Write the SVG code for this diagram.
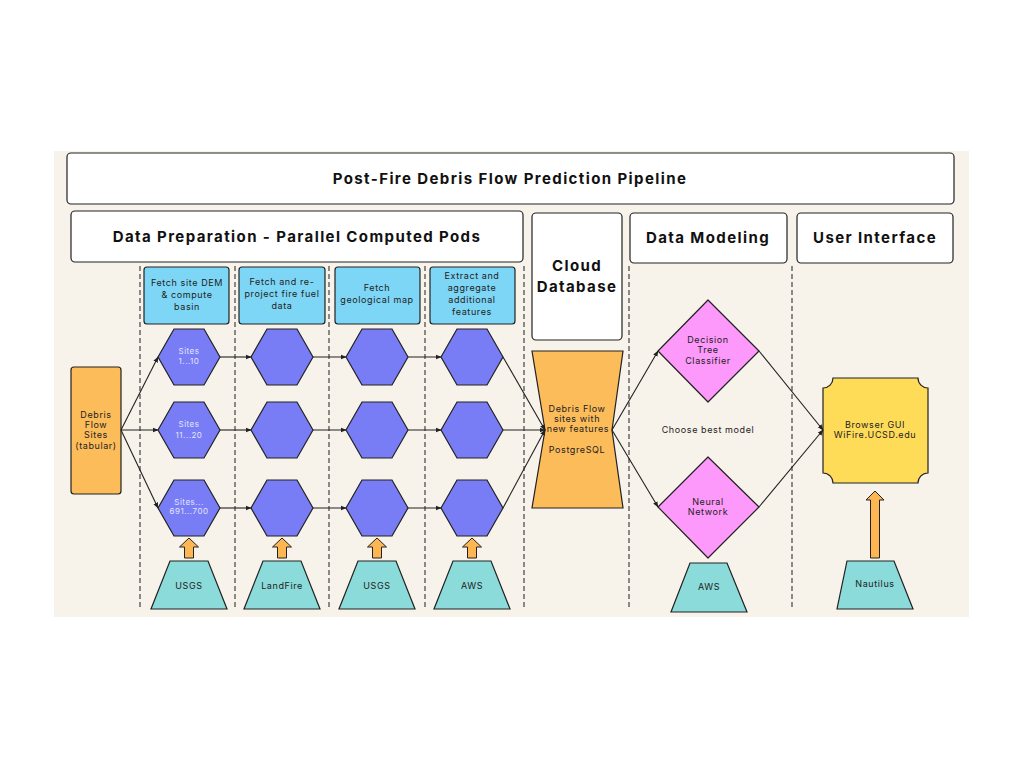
<svg xmlns="http://www.w3.org/2000/svg" width="1024" height="768" viewBox="0 0 1024 768">
  <style>
    .hdr { fill: #ffffff; stroke: #222; stroke-width: 1.2; }
    .h1 { font-family: Inter, "Liberation Sans", sans-serif; font-weight: 700; font-size: 15px; fill: #111; text-anchor: middle; letter-spacing: 1.4px; }
    .task { fill: #7dd6f5; stroke: #222; stroke-width: 1.2; }
    .t { font-family: Inter, "Liberation Sans", sans-serif; font-size: 9px; fill: #222; text-anchor: middle; letter-spacing: 0.6px; }
    .tw { font-family: Inter, "Liberation Sans", sans-serif; font-size: 8px; fill: #e4e6ff; text-anchor: middle; letter-spacing: 0.5px; }
    .hex { fill: #787cf5; stroke: #222; stroke-width: 1.2; }
    .src { fill: #8adbd9; stroke: #222; stroke-width: 1.2; }
    .up { fill: #fdb652; stroke: #222; stroke-width: 1; }
    .orange { fill: #fdbc5a; stroke: #222; stroke-width: 1.2; }
    .dia { fill: #fc99fa; stroke: #222; stroke-width: 1.2; stroke-linejoin: round; }
    .lane { stroke: #444; stroke-width: 1.2; stroke-dasharray: 5 3; fill: none; }
    .edge { stroke: #222; stroke-width: 1.1; fill: none; marker-end: url(#ah); }
  </style>
  <defs>
    <marker id="ah" viewBox="0 0 10 10" refX="9" refY="5" markerWidth="6" markerHeight="6" orient="auto" markerUnits="userSpaceOnUse">
      <path d="M0,1 L10,5 L0,9 Z" fill="#222"/>
    </marker>
    <polygon id="hexShape" points="-31,0 -15,-28 15,-28 31,0 15,28 -15,28"/>
    <polygon id="trap" points="-19,-24 19,-24 38,24 -38,24"/>
    <polygon id="upArrow" points="0,0 9.5,9 4.5,9 4.5,20 -4.5,20 -4.5,9 -9.5,9"/>
  </defs>

  <!-- canvas -->
  <rect x="54" y="151" width="915" height="466" fill="#f7f2ea"/>

  <!-- section headers -->
  <g id="title">
    <rect class="hdr" x="67" y="153" width="887" height="51" rx="4"/>
    <text class="h1" x="510" y="184">Post-Fire Debris Flow Prediction Pipeline</text>
  </g>
  <g id="hdr-prep">
    <rect class="hdr" x="71" y="211" width="452" height="51" rx="4"/>
    <text class="h1" x="297" y="242" font-size="16">Data Preparation - Parallel Computed Pods</text>
  </g>
  <g id="hdr-cloud">
    <rect class="hdr" x="532" y="213" width="90" height="127" rx="4"/>
    <text class="h1" x="577" y="271" font-size="16">Cloud</text>
    <text class="h1" x="577" y="292" font-size="16">Database</text>
  </g>
  <g id="hdr-model">
    <rect class="hdr" x="630" y="213" width="157" height="50" rx="4"/>
    <text class="h1" x="708" y="243">Data Modeling</text>
  </g>
  <g id="hdr-ui">
    <rect class="hdr" x="797" y="213" width="156" height="50" rx="4"/>
    <text class="h1" x="875" y="243">User Interface</text>
  </g>

  <!-- lane separators -->
  <g id="lanes">
    <line class="lane" x1="140" y1="266" x2="140" y2="610"/>
    <line class="lane" x1="235" y1="266" x2="235" y2="610"/>
    <line class="lane" x1="329" y1="266" x2="329" y2="610"/>
    <line class="lane" x1="425" y1="266" x2="425" y2="610"/>
    <line class="lane" x1="524" y1="266" x2="524" y2="610"/>
    <line class="lane" x1="629" y1="266" x2="629" y2="610"/>
    <line class="lane" x1="792" y1="266" x2="792" y2="610"/>
  </g>

  <!-- task headers -->
  <g id="task-dem">
    <rect class="task" x="144" y="267" width="85" height="57" rx="3"/>
    <text class="t" x="187" y="286">Fetch site DEM</text>
    <text class="t" x="187" y="298">&amp; compute</text>
    <text class="t" x="187" y="310">basin</text>
  </g>
  <g id="task-fuel">
    <rect class="task" x="239" y="267" width="86" height="57" rx="3"/>
    <text class="t" x="282" y="285">Fetch and re-</text>
    <text class="t" x="282" y="297">project fire fuel</text>
    <text class="t" x="282" y="309">data</text>
  </g>
  <g id="task-geo">
    <rect class="task" x="335" y="267" width="85" height="57" rx="3"/>
    <text class="t" x="377" y="291">Fetch</text>
    <text class="t" x="377" y="303">geological map</text>
  </g>
  <g id="task-extra">
    <rect class="task" x="430" y="267" width="85" height="57" rx="3"/>
    <text class="t" x="472" y="279">Extract and</text>
    <text class="t" x="472" y="291">aggregate</text>
    <text class="t" x="472" y="303">additional</text>
    <text class="t" x="472" y="315">features</text>
  </g>

  <!-- input table -->
  <g id="sites">
    <rect class="orange" x="71" y="367" width="50" height="127" rx="3"/>
    <text class="t" x="96" y="418">Debris</text>
    <text class="t" x="96" y="428">Flow</text>
    <text class="t" x="96" y="438">Sites</text>
    <text class="t" x="96" y="449">(tabular)</text>
  </g>

  <!-- pods: column 1 -->
  <g id="pod-1-1"><use href="#hexShape" class="hex" x="189" y="357"/>
    <text class="tw" x="189" y="354">Sites</text><text class="tw" x="189" y="364">1...10</text></g>
  <g id="pod-1-2"><use href="#hexShape" class="hex" x="189" y="430"/>
    <text class="tw" x="189" y="427">Sites</text><text class="tw" x="189" y="438">11...20</text></g>
  <g id="pod-1-3"><use href="#hexShape" class="hex" x="189" y="508"/>
    <text class="tw" x="189" y="505">Sites...</text><text class="tw" x="189" y="514">691...700</text></g>
  <!-- column 2 -->
  <g id="pod-2-1"><use href="#hexShape" class="hex" x="282" y="357"/></g>
  <g id="pod-2-2"><use href="#hexShape" class="hex" x="282" y="430"/></g>
  <g id="pod-2-3"><use href="#hexShape" class="hex" x="282" y="508"/></g>
  <!-- column 3 -->
  <g id="pod-3-1"><use href="#hexShape" class="hex" x="377" y="357"/></g>
  <g id="pod-3-2"><use href="#hexShape" class="hex" x="377" y="430"/></g>
  <g id="pod-3-3"><use href="#hexShape" class="hex" x="377" y="508"/></g>
  <!-- column 4 -->
  <g id="pod-4-1"><use href="#hexShape" class="hex" x="472" y="357"/></g>
  <g id="pod-4-2"><use href="#hexShape" class="hex" x="472" y="430"/></g>
  <g id="pod-4-3"><use href="#hexShape" class="hex" x="472" y="508"/></g>

  <!-- data sources -->
  <g id="src-usgs-1"><use href="#upArrow" class="up" x="189" y="538"/>
    <use href="#trap" class="src" x="189" y="585"/><text class="t" x="189" y="589">USGS</text></g>
  <g id="src-landfire"><use href="#upArrow" class="up" x="282" y="538"/>
    <use href="#trap" class="src" x="282" y="585"/><text class="t" x="282" y="589">LandFire</text></g>
  <g id="src-usgs-2"><use href="#upArrow" class="up" x="377" y="538"/>
    <use href="#trap" class="src" x="377" y="585"/><text class="t" x="377" y="589">USGS</text></g>
  <g id="src-aws-1"><use href="#upArrow" class="up" x="472" y="538"/>
    <use href="#trap" class="src" x="472" y="585"/><text class="t" x="472" y="589">AWS</text></g>

  <!-- cloud database -->
  <g id="db">
    <polygon class="orange" points="532,351 623,351 612,430 623,508 532,508 545,430"/>
    <text class="t" x="577" y="412" letter-spacing="0.3">Debris Flow</text>
    <text class="t" x="577" y="422" letter-spacing="0.3">sites with</text>
    <text class="t" x="578" y="432" font-size="8.6" letter-spacing="0.1">new features</text>
    <text class="t" x="577" y="453">PostgreSQL</text>
  </g>

  <!-- models -->
  <g id="model-dt">
    <polygon class="dia" points="708,300 759,351 708,402 658,351"/>
    <text class="t" x="708" y="343">Decision</text>
    <text class="t" x="708" y="353">Tree</text>
    <text class="t" x="708" y="364">Classifier</text>
  </g>
  <g id="model-nn">
    <polygon class="dia" points="708,457 759,507 708,558 658,507"/>
    <text class="t" x="708" y="505">Neural</text>
    <text class="t" x="708" y="515">Network</text>
  </g>
  <g id="choose">
    <text class="t" x="708" y="433">Choose best model</text>
  </g>
  <g id="src-aws-2">
    <polygon class="src" points="690,563 727,563 747,612 671,612"/>
    <text class="t" x="709" y="590">AWS</text>
  </g>

  <!-- user interface -->
  <g id="gui">
    <path fill="#ffdc58" stroke="#222" stroke-width="1.2" d="M833,378 H918 A10,10 0 0 0 928,388 V473 A10,10 0 0 0 918,483 H833 A10,10 0 0 0 823,473 V388 A10,10 0 0 0 833,378 Z"/>
    <text class="t" x="875" y="428">Browser GUI</text>
    <text class="t" x="875" y="438">WiFire.UCSD.edu</text>
  </g>
  <g id="src-nautilus">
    <polygon class="up" points="875,491 884,500 879.5,500 879.5,558 870.5,558 870.5,500 866,500"/>
    <polygon class="src" points="847,561 894,561 913,609 837,609"/>
    <text class="t" x="875" y="587">Nautilus</text>
  </g>

  <!-- connectors -->
  <g id="connectors">
    <path class="edge" d="M121,430 L158,357"/>
    <path class="edge" d="M121,430 L158,430"/>
    <path class="edge" d="M121,430 L158,508"/>

    <path class="edge" d="M220,357 L251,357"/>
    <path class="edge" d="M220,430 L251,430"/>
    <path class="edge" d="M220,508 L251,508"/>
    <path class="edge" d="M313,357 L346,357"/>
    <path class="edge" d="M313,430 L346,430"/>
    <path class="edge" d="M313,508 L346,508"/>
    <path class="edge" d="M408,357 L441,357"/>
    <path class="edge" d="M408,430 L441,430"/>
    <path class="edge" d="M408,508 L441,508"/>

    <path class="edge" d="M503,357 L545,430"/>
    <path class="edge" d="M503,430 L545,430"/>
    <path class="edge" d="M503,508 L545,430"/>

    <path class="edge" d="M612,430 L658,351"/>
    <path class="edge" d="M612,430 L658,507"/>

    <path class="edge" d="M759,351 L823,430"/>
    <path class="edge" d="M759,507 L823,430"/>
  </g>
</svg>
